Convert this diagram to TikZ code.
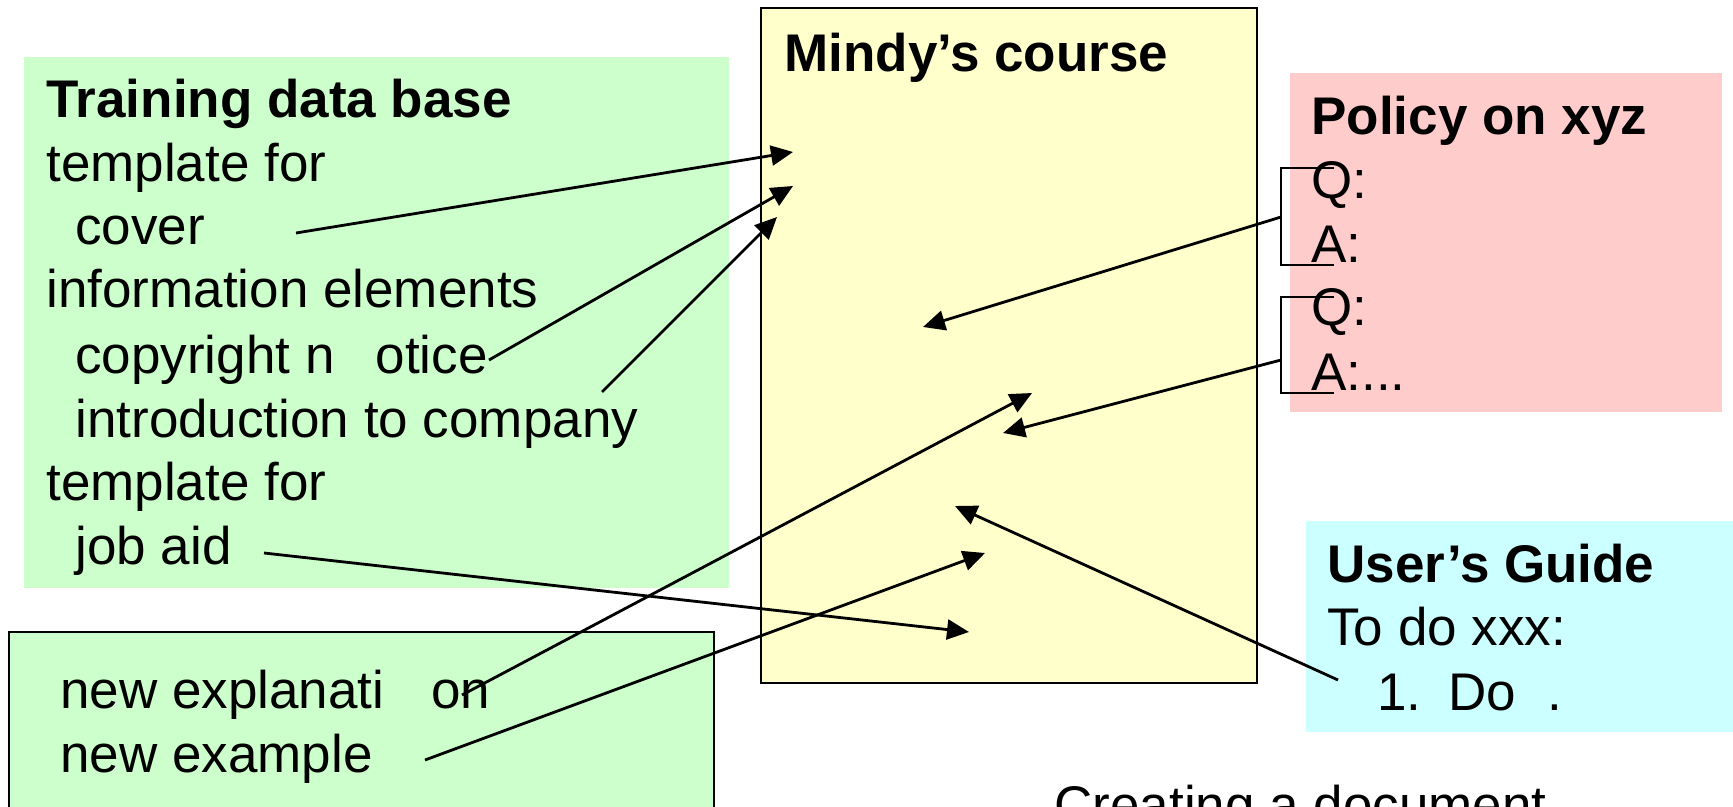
\documentclass[tikz,border=0pt]{standalone}
\usepackage{fontspec}
\setmainfont{Liberation Sans}
\usetikzlibrary{arrows.meta}

\definecolor{dbgreen}{RGB}{204,255,204}
\definecolor{crsyellow}{RGB}{255,255,204}
\definecolor{polpink}{RGB}{255,204,204}
\definecolor{guidecyan}{RGB}{204,255,255}

\tikzset{
  txt/.style={anchor=base west, inner sep=0pt, font=\fontsize{26.5pt}{31.8pt}\selectfont},
  hdr/.style={txt, font=\fontsize{26.5pt}{31.8pt}\selectfont\bfseries},
  link/.style={line width=1.4pt, -{Triangle[length=11pt, width=10pt]}},
  qabrace/.style={line width=0.8pt},
}

\begin{document}
\begin{tikzpicture}[x=0.5pt, y=-0.5pt]
\useasboundingbox (0,0) rectangle (1733,807);

% panels
\fill[dbgreen] (24,57) rectangle (729,588);
\filldraw[fill=dbgreen, draw=black, line width=1pt] (9,632) rectangle (714,840);
\filldraw[fill=crsyellow, draw=black, line width=1pt] (761,8) rectangle (1257,683);
\fill[polpink] (1290,73) rectangle (1722,412);
\fill[guidecyan] (1306,521) rectangle (1745,732);

% training data base
\node[hdr] (tdb) at (46,118) {Training data base};
\foreach \nm/\xx/\yy/\txt in {tmpl1/46/182/template for, cover/75/245/cover,
  infel/46/308/information elements, copyr/75/373/copyright n\hspace{20.5pt}otice,
  intro/75/437/introduction to company, tmpl2/46/500/template for, jobaid/75/564/job aid}
  \node[txt] (\nm) at (\xx,\yy) {\txt};

% new material
\node[txt] (newexpl) at (60,708) {new explanati\hspace{23.5pt}on};
\node[txt] (newex) at (60,772) {new example};

% course
\node[hdr] (mindy) at (784,72) {Mindy's course};

% policy
\node[hdr] (policy) at (1311,135) {Policy on xyz};
\node[txt] (q1) at (1311,199) {Q:};
\node[txt] (a1) at (1311,263) {A:};
\node[txt] (q2) at (1311,326) {Q:};
\node[txt] (a2) at (1311,390) {A:...};
\draw[qabrace] (1334,168) -| (1281,265) -- (1334,265);
\draw[qabrace] (1334,297) -| (1281,393) -- (1334,393);

% user's guide
\node[hdr] (guide) at (1327,582) {User's Guide};
\node[txt] (todo) at (1327,645) {To do xxx:};
\node[txt] (step1) at (1377,710) {1.\hspace{13.5pt}Do\hspace{15.5pt}.};

\node[txt] (caption) at (1054,823) {Creating a document};

% arrow ends
\coordinate (s1) at (296,233);  \coordinate (t1) at (793,152);
\coordinate (s2) at (489,360);  \coordinate (t2) at (793,186);
\coordinate (s3) at (602,392);  \coordinate (t3) at (777,217);
\coordinate (s4) at (264,553);  \coordinate (t4) at (969,632);
\coordinate (s5) at (462,695);  \coordinate (t5) at (1032,393);
\coordinate (s6) at (425,760);  \coordinate (t6) at (985,553);
\coordinate (s7) at (1281,217); \coordinate (t7) at (923,327);
\coordinate (s8) at (1281,360); \coordinate (t8) at (1003,433);
\coordinate (s9) at (1338,680); \coordinate (t9) at (955,506);

\foreach \i in {1,...,9}
  \draw[link] (s\i) -- (t\i);

\end{tikzpicture}
\end{document}
